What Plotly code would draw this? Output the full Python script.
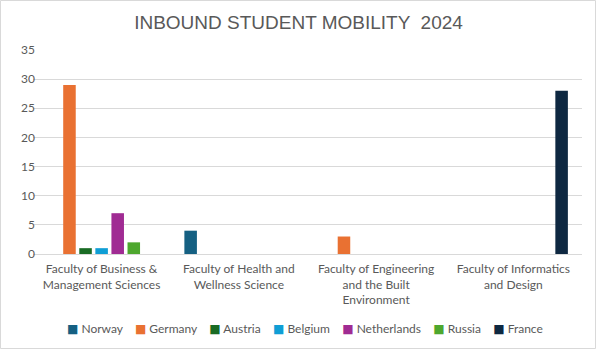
import plotly.graph_objects as go

categories = [
    "Faculty of Business &<br>Management Sciences",
    "Faculty of Health and<br>Wellness Science",
    "Faculty of Engineering<br>and the Built<br>Environment",
    "Faculty of Informatics<br>and Design",
]
series_names = ["Norway", "Germany", "Austria", "Belgium", "Netherlands", "Russia", "France"]
norway = [0, 4, 0, 0]
germany = [29, 0, 3, 0]
austria = [1, 0, 0, 0]
belgium = [1, 0, 0, 0]
netherlands = [7, 0, 0, 0]
russia = [2, 0, 0, 0]
france = [0, 0, 0, 28]
values = [norway, germany, austria, belgium, netherlands, russia, france]
colors = ["#156082", "#E97132", "#196B24", "#0F9ED5", "#A02B93", "#4EA72E", "#0E2841"]
y_ticks = [0, 5, 10, 15, 20, 25, 30, 35]

fig = go.Figure()
for name, vals, col in zip(series_names, values, colors):
    fig.add_trace(go.Bar(name=name, x=categories, y=vals, marker=dict(color=col, line=dict(width=0)),
                         showlegend=False))

W, H = 597, 349
ml, mr, mt, mb = 33, 15, 50, 95
pw, ph = W - ml - mr, H - mt - mb

# custom legend as a single flowing text line
gap = "\u00a0" * 4
legend_text = gap.join(
    f"<span style='color:{c}; font-family:DejaVu Sans'>■</span>\u00a0{n}" for n, c in zip(series_names, colors)
)

fig.update_layout(
    width=W, height=H,
    margin=dict(l=ml, r=mr, t=mt, b=mb, autoexpand=False),
    paper_bgcolor="white", plot_bgcolor="white",
    barmode="group", bargap=0.18, bargroupgap=0.22,
    font=dict(family="Lato, Open Sans, sans-serif", size=12, color="#595959"),
    title=dict(text="INBOUND STUDENT MOBILITY  2024", x=0.5, xanchor="center", y=1 - 22 / H, yanchor="middle",
               font=dict(family="Liberation Sans, Arial, sans-serif", size=19, color="#595959")),
    xaxis=dict(showgrid=False, showline=False, ticks="", tickfont=dict(size=12, color="#595959"), tickangle=0,
               automargin=False, ticklabelstandoff=6),
    yaxis=dict(range=[0, 35], tickvals=y_ticks, showgrid=True, gridcolor="#D9D9D9", gridwidth=1,
               zeroline=True, zerolinecolor="#D9D9D9", zerolinewidth=1, showline=False, ticks="",
               tickfont=dict(size=12, color="#595959"), automargin=False, ticklabelstandoff=-3),
    annotations=[dict(text=legend_text, xref="paper", yref="paper", x=(65 - ml) / pw, xanchor="left",
                      y=(ph - (328 - mt)) / ph, yanchor="middle", showarrow=False,
                      font=dict(size=12, color="#595959"))],
    shapes=[dict(type="rect", xref="paper", yref="paper",
                 x0=(0.5 - ml) / pw, x1=(W - 1.5 - ml) / pw,
                 y0=(-(mb - 0.5)) / ph, y1=(ph + mt - 0.5) / ph,
                 line=dict(color="#D9D9D9", width=1), fillcolor="rgba(0,0,0,0)", layer="below")],
)

fig.write_html("out.html")
